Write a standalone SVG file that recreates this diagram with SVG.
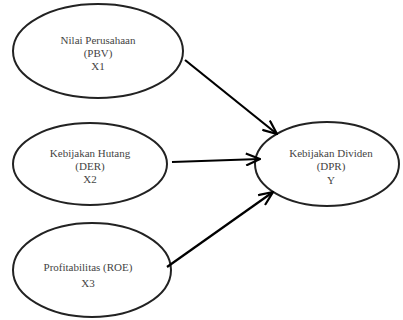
<svg xmlns="http://www.w3.org/2000/svg" width="403" height="320" viewBox="0 0 403 320">
<style>
.node ellipse{fill:#fff;stroke:#222;stroke-width:2}
.node text{font-family:"Liberation Serif","Times New Roman",serif;font-size:11px;fill:#444;text-anchor:middle}
.edges line{stroke:#000;stroke-width:2.2;marker-end:url(#arr)}
</style>
<defs>
<marker id="arr" viewBox="0 0 16 14" refX="15" refY="7" markerWidth="16" markerHeight="14" markerUnits="userSpaceOnUse" orient="auto">
<path d="M1,1 L15,7 L1,13" fill="none" stroke="#000" stroke-width="2.2"/>
</marker>
</defs>
<rect width="403" height="320" fill="#fff"/>
<g id="x1" class="node">
<ellipse cx="98" cy="51" rx="85" ry="47"/>
<text x="98" y="44">Nilai Perusahaan</text>
<text x="98" y="57">(PBV)</text>
<text x="98" y="70">X1</text>
</g>
<g id="x2" class="node">
<ellipse cx="90" cy="164" rx="77" ry="41"/>
<text x="90" y="157">Kebijakan Hutang</text>
<text x="90" y="170">(DER)</text>
<text x="90" y="183">X2</text>
</g>
<g id="x3" class="node">
<ellipse cx="92" cy="270" rx="79" ry="47"/>
<text x="88" y="271">Profitabilitas (ROE)</text>
<text x="88" y="287">X3</text>
</g>
<g id="y" class="node">
<ellipse cx="327" cy="164" rx="72" ry="42"/>
<text x="331" y="157">Kebijakan Dividen</text>
<text x="331" y="170">(DPR)</text>
<text x="331" y="184">Y</text>
</g>
<g id="edges" class="edges">
<line x1="185" y1="60" x2="277" y2="134"/>
<line x1="172" y1="162" x2="260" y2="159"/>
<line x1="167" y1="267" x2="273" y2="192"/>
</g>
</svg>
